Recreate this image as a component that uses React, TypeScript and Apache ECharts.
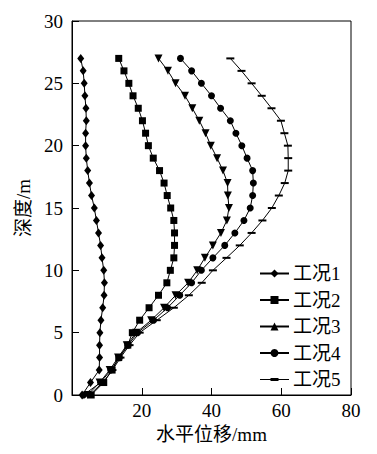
import React, { useEffect, useRef } from "react";
import * as echarts from "echarts";

const depths = [0, 1, 2, 3, 4, 5, 6, 7, 8, 9, 10, 11, 12, 13, 14, 15, 16, 17, 18, 19, 20, 21, 22, 23, 24, 25, 26, 27];
const seriesNames = ["工况1", "工况2", "工况3", "工况4", "工况5"];
const case1 = [2.9, 5.3, 7.8, 7.9, 7.9, 8.0, 8.3, 8.8, 9.2, 9.3, 9.1, 8.6, 8.2, 7.6, 7.0, 6.4, 5.6, 5.0, 4.5, 4.1, 3.9, 3.9, 4.1, 4.0, 3.7, 3.5, 3.2, 2.5];
const case2 = [5.5, 9.1, 11.5, 13.4, 16.0, 17.3, 19.4, 22.1, 24.8, 27.2, 28.2, 29.2, 29.4, 29.4, 29.2, 28.3, 27.3, 26.4, 25.1, 23.3, 21.9, 21.1, 20.2, 19.0, 17.5, 16.3, 14.9, 13.4];
const case3 = [4.5, 7.9, 10.8, 13.2, 15.7, 18.4, 22.7, 26.4, 29.7, 33.3, 35.9, 38.1, 40.4, 42.7, 44.4, 45.0, 44.7, 44.6, 43.3, 41.6, 39.8, 38.3, 36.5, 34.5, 32.4, 29.7, 27.5, 24.8];
const case4 = [3.3, 8.2, 11.1, 13.6, 16.1, 18.8, 23.4, 27.4, 30.9, 34.3, 37.1, 40.4, 43.8, 46.7, 49.3, 51.1, 51.8, 52.0, 51.8, 50.2, 48.7, 47.0, 45.4, 42.6, 40.0, 37.1, 34.3, 31.1];
const case5 = [5.0, 8.8, 11.6, 13.9, 16.5, 19.4, 24.3, 29.2, 33.5, 37.2, 40.4, 44.3, 48.1, 51.5, 54.6, 57.3, 59.3, 61.0, 62.0, 62.0, 61.9, 60.9, 59.9, 57.2, 54.4, 51.5, 48.6, 45.4];
const xTicks = [0, 20, 40, 60, 80];
const yTicks = [0, 5, 10, 15, 20, 25, 30];

const FONT = "'Liberation Serif', 'Noto Sans CJK SC', serif";
const DASH_LEGEND = "path://M0,4.5H29V5.5H0Z M10.5,3.5H18.5V6.5H10.5Z";

export default function App() {
  const ref = useRef<HTMLDivElement>(null);
  useEffect(() => {
    if (!ref.current) return;
    const chart = echarts.init(ref.current, null, { renderer: "svg" });
    const values = [case1, case2, case3, case4, case5];
    const symbols = ["diamond", "rect", "triangle", "circle", "rect"];
    const sizes: any[] = [[7, 9], 7, 8, 7, [8, 2]];
    const rotates = [0, 0, 180, 0, 0];
    chart.setOption({
      animation: false,
      backgroundColor: "#fff",
      grid: {
        left: 72, top: 21, width: 279, height: 374,
        show: true, borderColor: "#000", borderWidth: 1, backgroundColor: "transparent",
      },
      legend: {
        orient: "vertical",
        left: 254,
        top: 259,
        itemWidth: 29,
        itemHeight: 10,
        itemGap: 7.5,
        symbolRotate: 0,
        textStyle: { fontFamily: FONT, fontSize: 19, color: "#000", padding: [0, 0, 0, -1] },
        data: seriesNames.map((n, i) => (i === 4 ? { name: n, icon: DASH_LEGEND } : { name: n })),
      },
      xAxis: {
        type: "value",
        min: xTicks[0],
        max: xTicks[xTicks.length - 1],
        interval: 20,
        name: "水平位移/mm",
        nameLocation: "middle",
        nameGap: 26,
        nameTextStyle: { fontFamily: FONT, fontSize: 19, color: "#000" },
        axisLine: { show: true, lineStyle: { color: "#000", width: 1 } },
        axisTick: { show: true, inside: true, length: 7, lineStyle: { color: "#000" } },
        axisLabel: {
          fontFamily: FONT, fontSize: 19, color: "#000", margin: 6,
          formatter: (v: number) => (v === 0 ? "" : String(v)),
        },
        splitLine: { show: false },
      },
      yAxis: {
        type: "value",
        min: yTicks[0],
        max: yTicks[yTicks.length - 1],
        interval: 5,
        name: "深度/m",
        nameLocation: "middle",
        nameGap: 35,
        nameTextStyle: { fontFamily: FONT, fontSize: 19, color: "#000" },
        axisLine: { show: true, lineStyle: { color: "#000", width: 1 } },
        axisTick: { show: true, inside: true, length: 7, lineStyle: { color: "#000" } },
        axisLabel: { fontFamily: FONT, fontSize: 19, color: "#000", margin: 9 },
        splitLine: { show: false },
      },
      series: seriesNames.map((name, i) => ({
        name,
        type: "line",
        data: values[i].map((v, k) => [v, depths[k]]),
        symbol: symbols[i],
        symbolSize: sizes[i],
        symbolRotate: rotates[i],
        showAllSymbol: true,
        lineStyle: { color: "#000", width: 1 },
        itemStyle: { color: "#000" },
        z: 2,
      })),
    });
    return () => chart.dispose();
  }, []);
  return (
    <div
      ref={ref}
      style={{ position: "fixed", left: 0, top: 0, width: 377, height: 454, background: "#fff" }}
    />
  );
}
